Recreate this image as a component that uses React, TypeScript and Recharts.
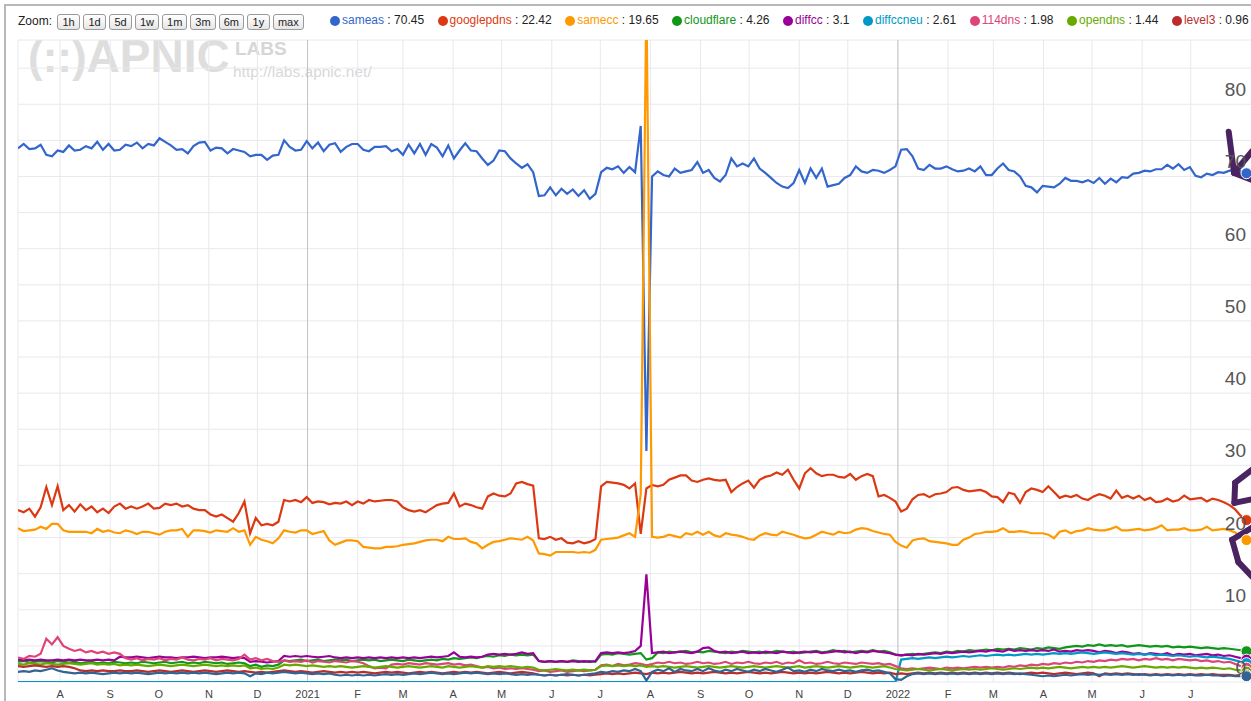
import React from "react";
import { LineChart, Line, XAxis, YAxis, CartesianGrid, ReferenceLine } from "recharts";

// ---------- categories ----------
const START_DATE = "2020-07-06";
const STEP_DAYS = 3.5;
const MONTH_TICK_DATES = [
  "2020-08-01", "2020-09-01", "2020-10-01", "2020-11-01", "2020-12-01", "2021-01-01",
  "2021-02-01", "2021-03-01", "2021-04-01", "2021-05-01", "2021-06-01", "2021-07-01",
  "2021-08-01", "2021-09-01", "2021-10-01", "2021-11-01", "2021-12-01", "2022-01-01",
  "2022-02-01", "2022-03-01", "2022-04-01", "2022-05-01", "2022-06-01", "2022-07-01",
];
const MONTH_TICK_LABELS = [
  "A", "S", "O", "N", "D", "2021", "F", "M", "A", "M", "J", "J",
  "A", "S", "O", "N", "D", "2022", "F", "M", "A", "M", "J", "J",
];
const YEAR_LINE_DATES = ["2021-01-01", "2022-01-01"];
const Y_GRID_TICKS = [0, 5, 10, 15, 20, 25, 30, 35, 40, 45, 50, 55, 60, 65, 70, 75, 80, 85];
const Y_MAX = 88.9;
const X_MAX_DAY = 766;

const ZOOM_BUTTONS = ["1h", "1d", "5d", "1w", "1m", "3m", "6m", "1y", "max"];

// ---------- series values (every 3.5 days) ----------
const SAMEAS = [
  73.9, 74.5, 73.8, 73.9, 74.4, 73.0, 72.8, 73.6, 73.4, 74.3,
  73.6, 73.7, 74.2, 73.9, 74.8, 73.7, 74.5, 73.6, 73.7, 74.4,
  74.2, 74.7, 73.9, 74.5, 74.3, 75.3, 74.8, 74.3, 73.7, 73.8,
  73.2, 74.2, 74.7, 74.8, 73.6, 74.0, 73.9, 73.2, 73.8, 73.6,
  73.4, 72.8, 73.0, 73.0, 72.3, 72.9, 73.0, 75.0, 74.1, 73.6,
  73.7, 74.9, 73.9, 74.7, 73.5, 74.4, 74.6, 73.4, 74.1, 74.5,
  74.5, 73.7, 73.5, 74.1, 74.1, 74.2, 73.5, 73.8, 73.0, 74.4,
  73.2, 74.5, 73.0, 74.5, 74.0, 72.8, 74.3, 72.5, 73.6, 74.6,
  73.6, 73.5, 72.5, 71.6, 72.2, 73.6, 73.5, 72.5, 71.8, 71.2,
  71.7, 70.6, 67.3, 67.4, 68.5, 67.4, 68.3, 67.6, 68.2, 67.3,
  68.1, 66.9, 67.6, 70.6, 71.2, 71.0, 71.4, 70.5, 71.3, 70.6,
  77.0, 32.0, 70.0, 70.7, 70.2, 70.0, 71.1, 70.5, 70.7, 70.9,
  72.0, 70.5, 70.9, 69.8, 69.3, 70.2, 72.5, 71.4, 71.8, 71.4,
  72.5, 71.1, 70.5, 69.8, 69.1, 68.6, 68.4, 69.1, 70.9, 69.1,
  71.1, 69.8, 71.1, 68.6, 68.8, 69.0, 69.8, 70.2, 71.4, 70.7,
  70.5, 70.9, 70.8, 70.5, 70.9, 71.4, 73.7, 73.8, 72.8, 71.1,
  70.9, 71.6, 71.1, 71.1, 71.4, 71.0, 70.7, 70.8, 71.1, 70.7,
  71.4, 70.2, 70.2, 71.1, 71.8, 70.9, 70.7, 70.0, 68.7, 68.5,
  67.8, 68.7, 68.6, 68.5, 69.0, 69.8, 69.4, 69.4, 69.2, 69.5,
  69.1, 69.8, 69.0, 69.7, 69.2, 69.9, 69.8, 70.4, 70.5, 70.8,
  70.7, 71.0, 71.0, 71.6, 71.1, 71.7, 70.9, 71.3, 70.1, 69.9,
  70.4, 70.2, 70.6, 70.5, 70.8, 70.8, 70.7, 70.45,
];

const GOOGLEPDNS = [
  23.8, 23.5, 24.0, 22.9, 24.2, 27.0, 24.5, 27.1, 23.8, 24.5,
  23.6, 24.6, 23.8, 24.3, 23.5, 24.0, 23.4, 24.3, 24.7, 24.0,
  24.3, 24.0, 24.3, 24.7, 24.0, 24.1, 24.7, 24.5, 24.7, 24.3,
  24.5, 24.0, 23.8, 23.8, 23.2, 22.9, 23.2, 22.7, 22.2, 23.4,
  25.0, 20.6, 22.7, 21.7, 21.9, 21.7, 22.2, 25.2, 25.0, 25.2,
  24.9, 25.6, 24.8, 25.0, 24.9, 24.6, 24.8, 24.7, 25.0, 24.5,
  25.0, 24.7, 25.2, 25.0, 25.1, 25.2, 25.2, 25.0, 24.2, 23.8,
  23.6, 23.8, 23.5, 24.0, 24.5, 24.7, 24.8, 26.1, 24.3, 24.7,
  24.5, 24.2, 24.0, 25.7, 26.1, 25.8, 25.7, 26.1, 27.5, 27.7,
  27.4, 27.2, 19.9, 19.8, 20.1, 19.7, 19.9, 19.3, 19.2, 19.5,
  19.2, 19.4, 19.8, 27.1, 27.7, 27.6, 27.5, 27.3, 26.8, 27.5,
  20.5, 26.8, 27.3, 27.1, 27.3, 28.0, 28.3, 28.6, 28.6, 27.9,
  27.7, 28.0, 28.2, 28.0, 27.9, 28.0, 26.3, 27.0, 27.5, 27.9,
  26.9, 28.0, 28.4, 28.6, 29.0, 28.7, 29.4, 28.0, 26.8, 28.9,
  29.6, 28.9, 28.5, 28.7, 28.7, 28.4, 28.3, 28.8, 28.0, 28.5,
  28.8, 28.5, 25.7, 25.9, 25.5, 25.0, 23.6, 24.0, 25.3, 25.9,
  26.0, 25.6, 26.0, 26.1, 26.3, 26.9, 27.0, 26.6, 26.4, 26.5,
  26.6, 26.3, 25.7, 25.6, 24.9, 26.2, 26.0, 24.8, 26.3, 26.8,
  26.6, 26.3, 27.1, 26.3, 25.5, 25.8, 25.6, 25.9, 25.4, 25.2,
  25.7, 26.0, 25.8, 25.4, 26.5, 25.5, 25.8, 25.4, 25.8, 25.2,
  25.5, 24.9, 25.0, 25.4, 25.0, 25.2, 25.8, 25.3, 25.4, 25.5,
  25.0, 25.4, 25.2, 24.9, 24.5, 23.9, 23.0, 22.42,
];

const SAMECC = [
  21.3, 20.9, 21.0, 21.1, 21.5, 21.2, 21.9, 21.9, 21.0, 20.8,
  20.8, 20.8, 20.8, 20.6, 21.2, 20.8, 21.0, 20.7, 20.6, 21.0,
  20.8, 20.5, 20.8, 20.8, 20.6, 20.4, 20.8, 21.0, 21.0, 21.2,
  20.1, 21.0, 21.0, 20.9, 20.7, 21.0, 20.9, 20.8, 21.3, 20.8,
  21.0, 19.0, 20.1, 19.7, 19.5, 19.2, 19.9, 21.0, 20.8, 20.7,
  21.0, 21.0, 20.5, 20.7, 20.9, 19.6, 19.0, 19.3, 19.6, 19.6,
  19.5, 18.7, 18.6, 18.5, 18.5, 18.7, 18.7, 18.8, 19.0, 19.1,
  19.2, 19.4, 19.6, 19.7, 19.7, 19.5, 20.1, 19.8, 19.8, 19.9,
  19.4, 19.2, 18.5, 19.0, 19.4, 19.5, 19.7, 19.9, 19.8, 19.7,
  20.1, 19.6, 17.8, 17.7, 17.5, 18.0, 18.0, 18.0, 18.0, 17.9,
  18.0, 17.9, 18.3, 19.7, 19.8, 19.9, 20.0, 20.3, 20.6, 20.1,
  26.0, 95.0, 20.1, 20.0, 20.1, 20.4, 20.2, 20.0, 20.6, 20.4,
  20.8, 20.4, 20.8, 20.3, 20.1, 20.6, 20.4, 20.3, 20.1, 19.8,
  19.7, 20.3, 20.6, 20.4, 20.3, 20.8, 20.6, 20.4, 20.1, 19.9,
  20.0, 20.4, 20.8, 20.6, 20.4, 20.8, 20.6, 20.7, 21.1, 21.3,
  21.2, 20.9, 20.7, 20.5, 20.4, 19.4, 18.9, 18.6, 19.6, 19.8,
  19.9, 19.5, 19.4, 19.3, 19.2, 19.0, 19.0, 19.7, 20.0, 20.5,
  20.6, 20.8, 20.8, 20.9, 21.3, 20.8, 20.8, 20.9, 20.8, 20.6,
  20.6, 20.6, 20.4, 19.9, 20.8, 21.0, 20.6, 20.9, 21.0, 21.3,
  21.1, 21.0, 21.0, 21.2, 21.5, 21.0, 21.0, 21.1, 21.2, 21.0,
  21.1, 21.3, 21.7, 21.0, 21.1, 21.1, 21.3, 21.0, 21.0, 21.1,
  21.5, 21.0, 21.1, 21.2, 21.0, 20.7, 20.2, 19.65,
];

const CLOUDFLARE = [
  2.8, 2.9, 2.7, 2.8, 2.9, 2.8, 2.7, 2.9, 2.8, 2.7,
  2.8, 2.6, 2.7, 2.8, 2.6, 2.7, 2.6, 2.8, 2.7, 2.6,
  2.7, 2.6, 2.8, 2.7, 2.6, 2.7, 2.8, 2.6, 2.7, 2.8,
  2.6, 2.7, 2.6, 2.8, 2.7, 2.6, 2.7, 2.5, 2.6, 2.7,
  2.6, 2.2, 2.4, 2.1, 2.3, 2.2, 2.4, 3.0, 2.9, 3.0,
  3.1, 2.9, 3.0, 3.1, 2.9, 3.0, 3.1, 3.0, 3.1, 2.9,
  3.0, 3.1, 3.0, 3.1, 2.9, 3.0, 3.1, 3.0, 2.9, 3.1,
  3.0, 2.9, 3.0, 3.1, 3.0, 3.2, 3.1, 3.3, 3.2, 3.3,
  3.4, 3.3, 3.5, 3.6, 3.5, 3.7, 3.6, 3.8, 3.7, 3.8,
  3.7, 3.8, 2.9, 2.8, 2.9, 2.8, 2.9, 2.8, 3.0, 2.9,
  2.8, 2.9, 2.8, 3.8, 3.9, 3.8, 4.0, 3.9, 3.8, 3.9,
  4.0, 3.1, 3.3, 4.1, 4.0, 4.2, 4.1, 4.2, 4.3, 4.1,
  4.2, 4.1, 4.3, 4.2, 4.1, 4.0, 4.2, 4.1, 4.3, 4.2,
  4.1, 4.2, 4.0, 4.1, 4.3, 4.2, 4.1, 4.2, 4.0, 4.1,
  4.2, 4.3, 4.1, 4.2, 4.4, 4.2, 4.3, 4.1, 4.2, 4.3,
  4.2, 4.4, 4.2, 4.3, 4.1, 3.8, 3.7, 3.8, 3.9, 3.8,
  3.9, 4.0, 4.1, 4.0, 4.2, 4.1, 4.3, 4.2, 4.4, 4.3,
  4.4, 4.5, 4.4, 4.6, 4.5, 4.6, 4.5, 4.7, 4.6, 4.5,
  4.7, 4.6, 4.8, 4.7, 4.6, 4.8, 4.9, 5.0, 4.9, 5.1,
  5.0, 5.2, 5.0, 5.1, 5.0, 5.1, 4.9, 5.0, 5.1, 5.0,
  4.9, 5.0, 4.9, 5.0, 4.8, 4.9, 4.8, 4.9, 4.8, 4.7,
  4.8, 4.7, 4.6, 4.7, 4.6, 4.5, 4.4, 4.26,
];

const DIFFCC = [
  3.1, 3.0, 3.1, 3.0, 3.1, 3.0, 3.0, 3.1, 3.0, 3.1,
  3.0, 3.1, 3.0, 3.0, 3.1, 3.0, 3.1, 3.0, 3.5, 3.4,
  3.4, 3.5, 3.4, 3.3, 3.4, 3.5, 3.4, 3.4, 3.3, 3.4,
  3.4, 3.5, 3.4, 3.3, 3.4, 3.4, 3.5, 3.4, 3.3, 3.4,
  3.3, 2.8, 2.9, 2.8, 2.7, 2.8, 2.9, 3.6, 3.5, 3.6,
  3.5, 3.6, 3.5, 3.4, 3.5, 3.6, 3.4, 3.3, 3.4, 3.3,
  3.4, 3.3, 3.4, 3.3, 3.4, 3.3, 3.4, 3.3, 3.4, 3.3,
  3.4, 3.3, 3.4, 3.5, 3.4, 3.5, 3.6, 4.1, 3.5, 3.4,
  3.5, 3.4, 3.5, 3.8, 3.9, 3.8, 3.9, 3.8, 3.9, 4.1,
  3.9, 4.0, 2.9, 2.8, 2.9, 2.8, 2.9, 2.8, 2.9, 2.8,
  2.9, 2.8, 2.9, 4.0, 4.1, 4.0, 4.1, 4.0, 4.1, 4.3,
  5.0, 14.9, 4.0, 4.1, 4.2, 4.0, 4.1, 4.2, 4.1, 4.0,
  4.2, 4.7, 4.8, 4.3, 4.1, 4.2, 4.0, 4.1, 4.2, 4.0,
  4.1, 4.0, 4.2, 4.1, 4.0, 4.2, 4.1, 4.0, 4.1, 4.2,
  4.1, 4.2, 4.0, 4.1, 4.2, 4.3, 4.1, 4.2, 4.0, 4.2,
  4.1, 4.3, 4.2, 4.1, 4.0, 3.8, 3.7, 3.8, 3.7, 3.9,
  3.8, 3.9, 4.0, 3.9, 4.1, 4.0, 4.1, 4.2, 4.1, 4.2,
  4.3, 4.2, 4.4, 4.3, 4.2, 4.5, 4.3, 4.4, 4.3, 4.4,
  4.3, 4.4, 4.3, 4.5, 4.2, 4.3, 4.2, 4.4, 4.3, 4.4,
  4.3, 4.1, 4.3, 4.2, 4.0, 4.2, 4.1, 3.9, 4.0, 3.8,
  4.0, 3.9, 3.8, 4.0, 3.7, 3.9, 3.8, 3.9, 3.7, 3.8,
  3.9, 3.7, 3.8, 3.6, 3.7, 3.5, 3.3, 3.1,
];

const DIFFCCNEU = [
  0, 0, 0, 0, 0, 0, 0, 0, 0, 0,
  0, 0, 0, 0, 0, 0, 0, 0, 0, 0,
  0, 0, 0, 0, 0, 0, 0, 0, 0, 0,
  0, 0, 0, 0, 0, 0, 0, 0, 0, 0,
  0, 0, 0, 0, 0, 0, 0, 0, 0, 0,
  0, 0, 0, 0, 0, 0, 0, 0, 0, 0,
  0, 0, 0, 0, 0, 0, 0, 0, 0, 0,
  0, 0, 0, 0, 0, 0, 0, 0, 0, 0,
  0, 0, 0, 0, 0, 0, 0, 0, 0, 0,
  0, 0, 0, 0, 0, 0, 0, 0, 0, 0,
  0, 0, 0, 0, 0, 0, 0, 0, 0, 0,
  0, 0, 0, 0, 0, 0, 0, 0, 0, 0,
  0, 0, 0, 0, 0, 0, 0, 0, 0, 0,
  0, 0, 0, 0, 0, 0, 0, 0, 0, 0,
  0, 0, 0, 0, 0, 0, 0, 0, 0, 0,
  0, 0, 0, 0, 0, 0, 3.1, 3.2, 3.3, 3.2,
  3.3, 3.4, 3.3, 3.4, 3.5, 3.4, 3.5, 3.6, 3.5, 3.6,
  3.7, 3.6, 3.7, 3.8, 3.7, 3.8, 3.7, 3.8, 3.9, 3.8,
  3.9, 3.8, 3.9, 4.0, 3.9, 4.0, 3.9, 4.0, 4.1, 4.0,
  3.9, 4.0, 4.1, 4.0, 3.9, 4.0, 3.9, 3.8, 3.9, 3.8,
  3.9, 3.7, 3.8, 3.7, 3.6, 3.7, 3.6, 3.5, 3.6, 3.5,
  3.4, 3.5, 3.4, 3.3, 3.2, 3.0, 2.8, 2.61,
];

const DNS114 = [
  3.4, 3.2, 3.6, 3.5, 3.9, 6.0, 5.2, 6.2, 5.0, 4.6,
  4.3, 4.5, 4.1, 4.3, 4.0, 4.2, 3.9, 4.1, 3.9, 3.3,
  3.1, 3.3, 3.0, 3.2, 3.1, 3.3, 3.0, 3.2, 3.1, 3.4,
  3.1, 3.0, 3.2, 3.1, 3.3, 3.0, 3.2, 3.1, 3.0, 3.2,
  3.8, 3.1, 3.3, 3.0, 3.2, 2.9, 2.8, 3.0, 2.8, 2.9,
  2.8, 3.0, 2.7, 2.9, 2.8, 2.7, 2.9, 2.8, 2.7, 2.9,
  2.8, 2.6, 2.2, 1.9, 2.0, 1.9, 2.4, 2.5, 2.4, 2.6,
  2.5, 2.4, 2.6, 2.5, 2.4, 2.5, 2.6, 2.4, 2.5, 2.3,
  2.4, 2.2, 2.0, 2.1, 1.9, 2.0, 1.8, 1.9, 1.8, 1.9,
  1.8, 1.7, 1.5, 1.6, 1.4, 1.5, 1.6, 1.4, 1.5, 1.6,
  1.5, 1.6, 1.7, 2.3, 2.4, 2.2, 2.5, 2.3, 2.4, 2.6,
  2.5, 2.3, 2.5, 2.7, 2.6, 2.8, 2.6, 2.7, 2.5, 2.6,
  2.8, 2.6, 2.7, 2.5, 2.6, 2.8, 2.5, 2.7, 2.6, 2.8,
  2.6, 2.5, 2.7, 2.6, 2.8, 2.5, 2.7, 2.6, 3.0, 2.6,
  2.7, 2.5, 2.6, 2.8, 2.6, 2.5, 2.7, 2.6, 2.5, 2.7,
  2.6, 2.5, 2.6, 2.4, 2.5, 2.2, 1.9, 1.8, 1.9, 1.8,
  1.9, 2.0, 1.9, 1.8, 2.0, 1.9, 2.0, 1.9, 2.0, 2.1,
  2.0, 2.1, 2.0, 2.1, 2.0, 2.2, 2.1, 2.3, 2.2, 2.4,
  2.3, 2.5, 2.4, 2.6, 2.5, 2.7, 2.6, 2.8, 2.7, 2.9,
  2.8, 3.0, 2.9, 3.1, 3.0, 3.2, 3.1, 3.2, 3.0, 3.2,
  3.1, 3.3, 3.1, 3.2, 3.0, 3.2, 3.1, 3.0, 3.1, 2.9,
  3.0, 2.8, 2.9, 2.7, 2.8, 2.5, 2.2, 1.98,
];

const OPENDNS = [
  2.5, 2.4, 2.6, 2.5, 2.4, 2.6, 2.5, 2.4, 2.5, 2.6,
  2.5, 2.4, 2.5, 2.6, 2.4, 2.5, 2.4, 2.5, 2.3, 2.4,
  2.3, 2.4, 2.3, 2.2, 2.3, 2.4, 2.3, 2.2, 2.3, 2.4,
  2.3, 2.2, 2.3, 2.4, 2.3, 2.2, 2.3, 2.2, 2.3, 2.2,
  2.3, 1.9, 2.0, 1.8, 1.9, 1.8, 2.0, 2.4, 2.3, 2.4,
  2.3, 2.2, 2.3, 2.2, 2.1, 2.2, 2.1, 2.2, 2.1, 2.0,
  2.1, 2.2, 2.1, 2.0, 2.1, 2.2, 2.1, 2.0, 2.1, 2.2,
  2.1, 2.0, 2.1, 2.2, 2.1, 2.0, 2.2, 2.1, 2.0, 2.1,
  2.2, 2.1, 2.0, 2.2, 2.1, 2.2, 2.1, 2.2, 2.1, 2.0,
  2.1, 2.0, 1.7, 1.6, 1.7, 1.8, 1.7, 1.6, 1.7, 1.6,
  1.7, 1.6, 1.7, 2.2, 2.3, 2.2, 2.3, 2.2, 2.3, 2.2,
  2.3, 2.1, 2.2, 2.1, 2.2, 2.1, 2.0, 2.1, 2.2, 2.1,
  2.0, 2.1, 2.2, 2.1, 2.0, 2.1, 2.2, 2.1, 2.0, 2.1,
  2.2, 2.1, 2.0, 2.1, 2.2, 2.1, 2.0, 2.1, 2.2, 2.0,
  2.1, 2.2, 2.1, 2.0, 2.1, 2.2, 2.1, 2.0, 2.1, 2.2,
  2.1, 2.0, 2.1, 2.2, 2.0, 1.8, 1.7, 1.6, 1.7, 1.8,
  1.7, 1.6, 1.7, 1.8, 1.7, 1.6, 1.7, 1.8, 1.7, 1.8,
  1.7, 1.8, 1.9, 1.8, 1.7, 1.8, 1.9, 1.8, 1.9, 2.0,
  1.9, 2.0, 1.9, 2.0, 2.1, 2.0, 1.9, 2.0, 2.1, 2.0,
  2.1, 2.0, 2.1, 2.0, 2.1, 2.2, 2.1, 2.0, 2.1, 2.2,
  2.1, 2.0, 2.1, 2.0, 2.1, 2.0, 2.1, 2.0, 1.9, 2.0,
  1.9, 2.0, 1.9, 1.8, 1.9, 1.7, 1.6, 1.44,
];

const LEVEL3 = [
  2.2, 2.1, 2.2, 2.3, 2.2, 2.1, 2.2, 2.1, 2.2, 2.1,
  1.9, 1.6, 1.5, 1.6, 1.5, 1.6, 1.5, 1.5, 1.6, 1.5,
  1.5, 1.6, 1.5, 1.4, 1.5, 1.6, 1.5, 1.4, 1.5, 1.6,
  1.5, 1.4, 1.5, 1.6, 1.5, 1.4, 1.5, 1.6, 1.5, 1.4,
  1.5, 1.4, 1.3, 1.4, 1.3, 1.4, 1.5, 1.6, 1.5, 1.4,
  1.5, 1.4, 1.3, 1.4, 1.5, 1.4, 1.3, 1.4, 1.3, 1.4,
  1.3, 1.4, 1.3, 1.2, 1.3, 1.4, 1.3, 1.4, 1.3, 1.2,
  1.3, 1.4, 1.3, 1.4, 1.3, 1.2, 1.3, 1.4, 1.3, 1.4,
  1.3, 1.4, 1.3, 1.2, 1.3, 1.4, 1.3, 1.2, 1.3, 1.4,
  1.3, 1.2, 1.0, 0.9, 1.0, 0.9, 1.0, 0.9, 1.0, 0.9,
  1.0, 0.9, 1.0, 1.1, 1.2, 1.1, 1.2, 1.1, 1.2, 1.3,
  1.2, 1.1, 1.3, 1.2, 1.3, 1.2, 1.3, 1.4, 1.3, 1.2,
  1.3, 1.2, 1.3, 1.4, 1.3, 1.2, 1.3, 1.2, 1.3, 1.4,
  1.3, 1.2, 1.3, 1.2, 1.3, 1.4, 1.3, 1.2, 1.3, 1.2,
  1.3, 1.2, 1.3, 1.4, 1.3, 1.2, 1.3, 1.2, 1.3, 1.4,
  1.3, 1.2, 1.3, 1.2, 1.3, 1.1, 1.2, 1.1, 1.2, 1.3,
  1.2, 1.3, 1.2, 1.3, 1.2, 1.3, 1.2, 1.3, 1.2, 1.3,
  1.2, 1.3, 1.2, 1.3, 1.2, 1.3, 1.2, 1.1, 1.2, 1.3,
  1.2, 1.3, 1.2, 1.1, 1.2, 1.3, 1.2, 1.1, 1.2, 1.3,
  1.2, 0.8, 1.2, 1.1, 1.2, 1.1, 1.2, 1.1, 1.0, 1.1,
  1.0, 1.1, 1.0, 1.1, 1.0, 1.1, 1.0, 1.1, 1.0, 1.1,
  1.0, 1.1, 1.0, 1.0, 1.0, 0.9, 1.0, 0.96,
];

const OTHER = [
  1.4, 1.5, 1.4, 1.6, 1.5, 1.7, 1.9, 1.6, 1.4, 1.3,
  1.2, 1.3, 1.2, 1.3, 1.2, 1.1, 1.2, 1.3, 1.2, 1.3,
  1.2, 1.3, 1.2, 1.1, 1.2, 1.3, 1.2, 1.3, 1.2, 1.3,
  1.2, 1.3, 1.2, 1.3, 1.2, 1.1, 1.2, 1.3, 1.2, 1.3,
  1.2, 0.8, 1.2, 1.1, 1.3, 1.2, 1.3, 1.4, 1.3, 1.2,
  1.3, 1.2, 1.1, 1.2, 1.1, 1.2, 1.0, 0.9, 1.0, 0.9,
  1.0, 0.9, 1.0, 0.9, 1.0, 1.1, 1.0, 1.1, 1.0, 1.1,
  1.2, 1.1, 1.2, 1.3, 1.2, 1.1, 1.2, 1.1, 1.2, 1.3,
  1.2, 1.3, 1.2, 1.1, 1.2, 1.1, 1.2, 1.1, 1.0, 1.1,
  1.0, 1.1, 1.0, 0.9, 1.0, 0.9, 1.0, 1.1, 1.0, 0.9,
  1.0, 1.1, 1.2, 1.4, 1.3, 1.5, 1.4, 1.6, 1.5, 1.8,
  1.5, 0.2, 1.4, 1.7, 1.5, 1.9, 1.4, 1.8, 1.6, 1.5,
  1.8, 1.5, 1.9, 1.6, 1.4, 1.7, 1.5, 1.8, 1.6, 1.4,
  1.7, 1.5, 1.8, 1.6, 1.4, 1.7, 2.0, 1.5, 1.6, 1.4,
  1.7, 1.5, 1.8, 1.6, 1.5, 1.7, 1.5, 1.6, 1.4, 1.6,
  1.7, 1.5, 1.6, 1.4, 1.2, 0.4, 0.3, 0.8, 1.1, 1.2,
  1.1, 1.2, 1.1, 1.2, 1.1, 1.2, 1.1, 1.2, 1.1, 1.2,
  1.1, 1.2, 1.1, 1.2, 1.1, 1.2, 1.1, 1.2, 1.1, 1.0,
  0.9, 0.8, 0.9, 0.8, 0.9, 1.0, 0.9, 1.0, 1.1, 1.0,
  1.1, 1.0, 1.1, 1.0, 1.1, 1.0, 1.1, 1.0, 1.1, 1.0,
  0.9, 1.0, 0.9, 1.0, 0.9, 1.0, 0.9, 1.0, 0.9, 0.9,
  1.0, 0.9, 0.9, 0.8, 0.9, 0.8, 0.8, 0.8,
];

// hand-drawn annotation strokes, in data coordinates [day, value]
const ANNOTATION_STROKES = [
  [[748.5, 76.2], [751.8, 70.5], [763, 73.5]],
  [[751.8, 70.5], [763, 69.5]],
  [[763, 29.4], [752.5, 27.6], [752.0, 24.8], [763, 25.3]],
  [[763, 21.4], [750.6, 19.7], [754.5, 16.6], [763, 14.6]],
];

type Series = { key: string; name: string; color: string; values: number[]; legend: boolean };
const SERIES: Series[] = [
  { key: "sameas", name: "sameas", color: "#3366cc", values: SAMEAS, legend: true },
  { key: "googlepdns", name: "googlepdns", color: "#dc3912", values: GOOGLEPDNS, legend: true },
  { key: "samecc", name: "samecc", color: "#ff9900", values: SAMECC, legend: true },
  { key: "cloudflare", name: "cloudflare", color: "#109618", values: CLOUDFLARE, legend: true },
  { key: "diffcc", name: "diffcc", color: "#990099", values: DIFFCC, legend: true },
  { key: "diffccneu", name: "diffccneu", color: "#0099c6", values: DIFFCCNEU, legend: true },
  { key: "dns114", name: "114dns", color: "#dd4477", values: DNS114, legend: true },
  { key: "opendns", name: "opendns", color: "#66aa00", values: OPENDNS, legend: true },
  { key: "level3", name: "level3", color: "#b82e2e", values: LEVEL3, legend: true },
  { key: "other", name: "other", color: "#316395", values: OTHER, legend: false },
];

const DAY_MS = 86400000;
const dayOf = (d: string) => (Date.parse(d) - Date.parse(START_DATE)) / DAY_MS;
const TICK_DAYS = MONTH_TICK_DATES.map(dayOf);
const YEAR_DAYS = YEAR_LINE_DATES.map(dayOf);

const ROWS = SAMEAS.map((_, i) => {
  const r: Record<string, number> = { day: i * STEP_DAYS };
  SERIES.forEach((s) => {
    r[s.key] = s.values[i];
  });
  return r;
});

const FONT = '"Liberation Sans", Arial, Helvetica, sans-serif';

const renderYTick = (props: any) => {
  const { y, payload, index } = props;
  if (payload.value % 10 !== 0) return <g key={`yt-${index}`} />;
  return (
    <text key={`yt-${index}`} x={1246} y={y - 8} textAnchor="end" fontSize={19} fill="#555" fontFamily={FONT}>
      {payload.value}
    </text>
  );
};

const makeEndDot = (color: string) => (props: any) => {
  const { cx, cy, index } = props;
  if (index !== ROWS.length - 1 || cx == null || cy == null) return <g key={`d-${index}`} />;
  return <circle key={`d-${index}`} cx={cx} cy={cy} r={5.5} fill={color} stroke="#fff" strokeWidth={1} />;
};

export default function App() {
  return (
    <div
      style={{
        position: "absolute",
        left: 0,
        top: 0,
        width: 1251,
        height: 701,
        overflow: "hidden",
        background: "#fff",
        fontFamily: FONT,
      }}
    >
      {/* frame */}
      <div
        style={{
          position: "absolute",
          left: 4,
          top: 4,
          width: 1300,
          height: 800,
          borderTop: "2px solid #b8b8b8",
          borderLeft: "2px solid #b8b8b8",
        }}
      />
      {/* watermark */}
      <div style={{ position: "absolute", left: 28, top: 29, color: "#dedede", whiteSpace: "nowrap", fontWeight: 700 }}>
        <span style={{ fontSize: 44 }}>(::)</span>
        <span style={{ fontSize: 46 }}>APNIC</span>
      </div>
      <div style={{ position: "absolute", left: 235, top: 38, color: "#d6d6d6", fontSize: 19, fontWeight: 700 }}>
        LABS
      </div>
      <div style={{ position: "absolute", left: 233, top: 63, color: "#d8d8d8", fontSize: 15.5 }}>
        http://labs.apnic.net/
      </div>

      <div style={{ position: "absolute", left: 0, top: 0 }}>
        <LineChart
          width={1257}
          height={701}
          data={ROWS}
          margin={{ top: 40, right: 0, bottom: 0, left: 18 }}
        >
          <CartesianGrid stroke="#e8e8ee" strokeWidth={1} />
          <XAxis
            type="number"
            dataKey="day"
            domain={[0, X_MAX_DAY]}
            ticks={TICK_DAYS}
            interval={0}
            allowDataOverflow
            height={19}
            axisLine={false}
            tickLine={false}
            tickFormatter={(v: number) => {
              const idx = TICK_DAYS.findIndex((t) => Math.abs(t - v) < 0.01);
              return idx >= 0 ? MONTH_TICK_LABELS[idx] : "";
            }}
            tick={{ fontSize: 11, fill: "#444", fontFamily: FONT }}
          />
          <YAxis
            orientation="right"
            mirror
            width={1}
            domain={[0, Y_MAX]}
            ticks={Y_GRID_TICKS}
            interval={0}
            allowDataOverflow
            axisLine={false}
            tickLine={false}
            tick={renderYTick}
          />
          {YEAR_DAYS.map((d) => (
            <ReferenceLine key={d} x={d} stroke="#c4c4c4" strokeWidth={1} />
          ))}
          {SERIES.map((s) => (
            <Line
              key={s.key}
              type="linear"
              dataKey={s.key}
              name={s.name}
              stroke={s.color}
              strokeWidth={2.2}
              dot={makeEndDot(s.color)}
              activeDot={false}
              isAnimationActive={false}
            />
          ))}
          {ANNOTATION_STROKES.flatMap((pts, k) =>
            pts.slice(1).map((p, j) => (
              <ReferenceLine
                key={`a-${k}-${j}`}
                segment={[
                  { x: pts[j][0], y: pts[j][1] },
                  { x: p[0], y: p[1] },
                ]}
                stroke="#4a2460"
                strokeWidth={6}
                strokeLinecap="round"
                ifOverflow="visible"
              />
            ))
          )}
        </LineChart>
      </div>

      {/* Zoom controls */}
      <div style={{ position: "absolute", left: 18, top: 14, fontSize: 12, color: "#222", lineHeight: "15px" }}>
        Zoom:
      </div>
      <div style={{ position: "absolute", left: 57, top: 14, display: "flex", gap: 3 }}>
        {ZOOM_BUTTONS.map((b) => (
          <div
            key={b}
            style={{
              boxSizing: "border-box",
              height: 16,
              padding: "0 4px",
              minWidth: 23,
              border: "1px solid #9a9a9a",
              borderRadius: 3,
              background: "linear-gradient(#ffffff, #e6e6e6)",
              fontSize: 11,
              lineHeight: "14px",
              textAlign: "center",
              color: "#222",
            }}
          >
            {b}
          </div>
        ))}
      </div>

      {/* Legend */}
      <div
        style={{
          position: "absolute",
          left: 330,
          top: 13,
          display: "flex",
          gap: 13.5,
          whiteSpace: "nowrap",
          fontSize: 12,
          lineHeight: "15px",
        }}
      >
        {SERIES.filter((s) => s.legend).map((s) => (
          <div key={s.key} style={{ display: "flex", alignItems: "center" }}>
            <span
              style={{
                display: "inline-block",
                width: 10,
                height: 10,
                borderRadius: 5,
                background: s.color,
                marginRight: 2,
              }}
            />
            <span style={{ color: s.color }}>{s.name}</span>
            <span style={{ color: "#222" }}>&nbsp;:&nbsp;{String(s.values[s.values.length - 1])}</span>
          </div>
        ))}
      </div>
    </div>
  );
}
